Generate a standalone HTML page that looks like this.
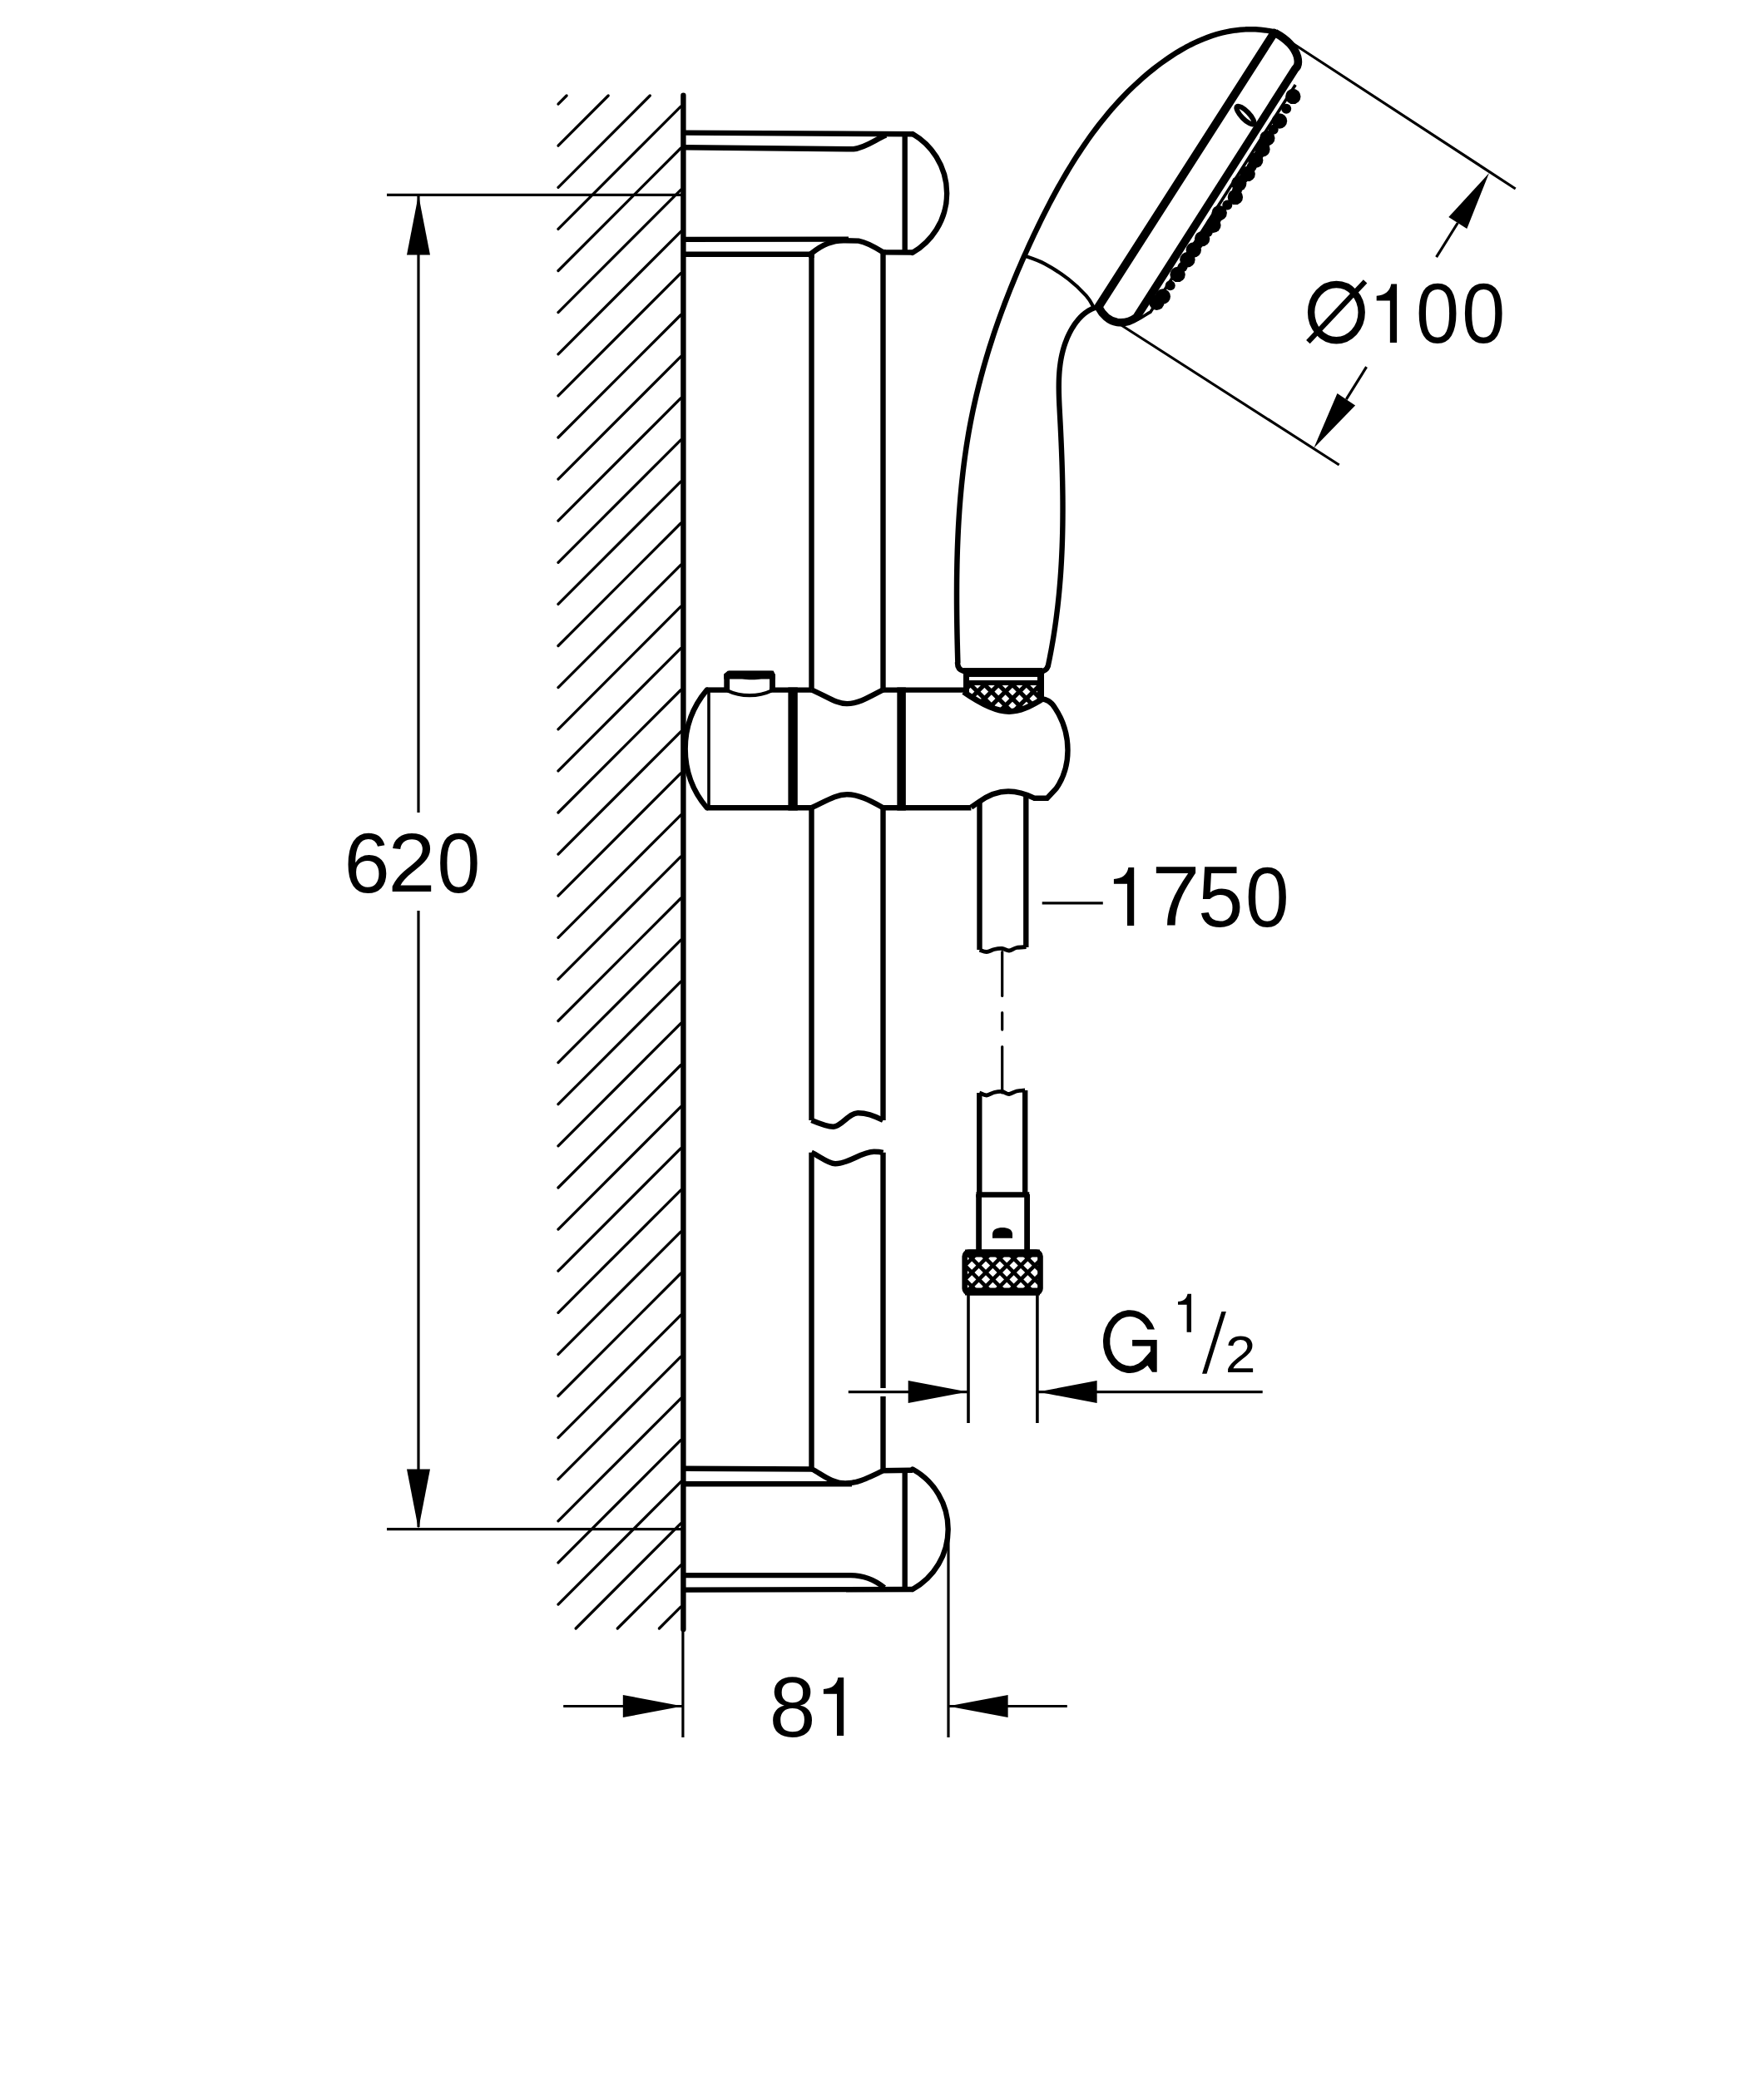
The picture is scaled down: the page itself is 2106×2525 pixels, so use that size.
<!DOCTYPE html>
<html><head><meta charset="utf-8"><title>Shower rail set drawing</title>
<style>html,body{margin:0;padding:0;background:#fff;}body{width:2106px;height:2525px;overflow:hidden;font-family:"Liberation Sans",sans-serif;}svg{display:block;}</style>
</head><body>
<svg width="2106" height="2525" viewBox="0 0 2106 2525" stroke="#000" fill="none"><line x1="671.0" y1="125.1" x2="681.1" y2="115.0" stroke-width="3.3" stroke-linecap="round"/>
<line x1="671.0" y1="175.2" x2="731.2" y2="115.0" stroke-width="3.3" stroke-linecap="round"/>
<line x1="671.0" y1="225.3" x2="781.3" y2="115.0" stroke-width="3.3" stroke-linecap="round"/>
<line x1="671.0" y1="275.4" x2="818.5" y2="127.9" stroke-width="3.3" stroke-linecap="round"/>
<line x1="671.0" y1="325.5" x2="818.5" y2="178.0" stroke-width="3.3" stroke-linecap="round"/>
<line x1="671.0" y1="375.6" x2="818.5" y2="228.1" stroke-width="3.3" stroke-linecap="round"/>
<line x1="671.0" y1="425.8" x2="818.5" y2="278.3" stroke-width="3.3" stroke-linecap="round"/>
<line x1="671.0" y1="475.9" x2="818.5" y2="328.4" stroke-width="3.3" stroke-linecap="round"/>
<line x1="671.0" y1="526.0" x2="818.5" y2="378.5" stroke-width="3.3" stroke-linecap="round"/>
<line x1="671.0" y1="576.1" x2="818.5" y2="428.6" stroke-width="3.3" stroke-linecap="round"/>
<line x1="671.0" y1="626.2" x2="818.5" y2="478.7" stroke-width="3.3" stroke-linecap="round"/>
<line x1="671.0" y1="676.3" x2="818.5" y2="528.8" stroke-width="3.3" stroke-linecap="round"/>
<line x1="671.0" y1="726.4" x2="818.5" y2="578.9" stroke-width="3.3" stroke-linecap="round"/>
<line x1="671.0" y1="776.5" x2="818.5" y2="629.0" stroke-width="3.3" stroke-linecap="round"/>
<line x1="671.0" y1="826.6" x2="818.5" y2="679.1" stroke-width="3.3" stroke-linecap="round"/>
<line x1="671.0" y1="876.8" x2="818.5" y2="729.2" stroke-width="3.3" stroke-linecap="round"/>
<line x1="671.0" y1="926.9" x2="818.5" y2="779.4" stroke-width="3.3" stroke-linecap="round"/>
<line x1="671.0" y1="977.0" x2="818.5" y2="829.5" stroke-width="3.3" stroke-linecap="round"/>
<line x1="671.0" y1="1027.1" x2="818.5" y2="879.6" stroke-width="3.3" stroke-linecap="round"/>
<line x1="671.0" y1="1077.2" x2="818.5" y2="929.7" stroke-width="3.3" stroke-linecap="round"/>
<line x1="671.0" y1="1127.3" x2="818.5" y2="979.8" stroke-width="3.3" stroke-linecap="round"/>
<line x1="671.0" y1="1177.4" x2="818.5" y2="1029.9" stroke-width="3.3" stroke-linecap="round"/>
<line x1="671.0" y1="1227.5" x2="818.5" y2="1080.0" stroke-width="3.3" stroke-linecap="round"/>
<line x1="671.0" y1="1277.6" x2="818.5" y2="1130.1" stroke-width="3.3" stroke-linecap="round"/>
<line x1="671.0" y1="1327.7" x2="818.5" y2="1180.2" stroke-width="3.3" stroke-linecap="round"/>
<line x1="671.0" y1="1377.8" x2="818.5" y2="1230.3" stroke-width="3.3" stroke-linecap="round"/>
<line x1="671.0" y1="1428.0" x2="818.5" y2="1280.5" stroke-width="3.3" stroke-linecap="round"/>
<line x1="671.0" y1="1478.1" x2="818.5" y2="1330.6" stroke-width="3.3" stroke-linecap="round"/>
<line x1="671.0" y1="1528.2" x2="818.5" y2="1380.7" stroke-width="3.3" stroke-linecap="round"/>
<line x1="671.0" y1="1578.3" x2="818.5" y2="1430.8" stroke-width="3.3" stroke-linecap="round"/>
<line x1="671.0" y1="1628.4" x2="818.5" y2="1480.9" stroke-width="3.3" stroke-linecap="round"/>
<line x1="671.0" y1="1678.5" x2="818.5" y2="1531.0" stroke-width="3.3" stroke-linecap="round"/>
<line x1="671.0" y1="1728.6" x2="818.5" y2="1581.1" stroke-width="3.3" stroke-linecap="round"/>
<line x1="671.0" y1="1778.7" x2="818.5" y2="1631.2" stroke-width="3.3" stroke-linecap="round"/>
<line x1="671.0" y1="1828.8" x2="818.5" y2="1681.3" stroke-width="3.3" stroke-linecap="round"/>
<line x1="671.0" y1="1878.9" x2="818.5" y2="1731.4" stroke-width="3.3" stroke-linecap="round"/>
<line x1="671.0" y1="1929.1" x2="818.5" y2="1781.6" stroke-width="3.3" stroke-linecap="round"/>
<line x1="692.2" y1="1958.0" x2="818.5" y2="1831.7" stroke-width="3.3" stroke-linecap="round"/>
<line x1="742.3" y1="1958.0" x2="818.5" y2="1881.8" stroke-width="3.3" stroke-linecap="round"/>
<line x1="792.4" y1="1958.0" x2="818.5" y2="1931.9" stroke-width="3.3" stroke-linecap="round"/>
<line x1="821.4" y1="114.8" x2="821.4" y2="1959.0" stroke-width="6.4" stroke-linecap="round"/>
<line x1="820.9" y1="1959.0" x2="820.9" y2="2089.0" stroke-width="3.2" stroke-linecap="butt"/>
<line x1="465.0" y1="234.4" x2="819.0" y2="234.4" stroke-width="3.2" stroke-linecap="butt"/>
<line x1="465.0" y1="1838.6" x2="819.0" y2="1838.6" stroke-width="3.2" stroke-linecap="butt"/>
<line x1="503.0" y1="236.0" x2="503.0" y2="977.0" stroke-width="3.2" stroke-linecap="butt"/>
<line x1="503.0" y1="1095.0" x2="503.0" y2="1836.0" stroke-width="3.2" stroke-linecap="butt"/>
<polygon points="503.0,234.5 489.0,306.6 517.0,306.6" stroke="none" fill="#000"/>
<polygon points="503.0,1838.5 517.0,1766.4 489.0,1766.4" stroke="none" fill="#000"/>
<line x1="677.2" y1="2051.5" x2="820.0" y2="2051.5" stroke-width="3.2" stroke-linecap="butt"/>
<polygon points="820.5,2051.5 748.8,2037.9 748.8,2065.1" stroke="none" fill="#000"/>
<line x1="1140.0" y1="2051.5" x2="1282.8" y2="2051.5" stroke-width="3.2" stroke-linecap="butt"/>
<polygon points="1139.6,2051.5 1211.6,2065.1 1211.6,2037.9" stroke="none" fill="#000"/>
<line x1="1140.0" y1="1847.0" x2="1140.0" y2="2089.0" stroke-width="3.2" stroke-linecap="butt"/>
<path d="M824,159.6 L1098,161.3" stroke-width="6.4" fill="none" />
<path d="M824,177.3 L1026,179.3 C1040,178 1052,168 1065,162.5" stroke-width="6.4" fill="none" />
<line x1="1087.7" y1="161.0" x2="1087.7" y2="303.0" stroke-width="6.4" stroke-linecap="butt"/>
<path d="M1097,161 A82.5,82.5 0 0 1 1097,303.8" stroke-width="6.4" fill="none" stroke-linecap="round"/>
<path d="M824,287.9 L1020,287.6" stroke-width="6.4" fill="none" />
<path d="M975.5,310 L975.5,304.6 C980,301 988,295.5 995,292.8 C1002,290 1008,289.2 1014,289.2 L1032,289.6 C1040,291 1050,296 1061.5,303.3 L1097,303.5" stroke-width="6.4" fill="none" />
<path d="M824,305.7 L978,305.7" stroke-width="6.4" fill="none" />
<line x1="975.5" y1="304.0" x2="975.5" y2="829.5" stroke-width="6.4" stroke-linecap="butt"/>
<line x1="1061.5" y1="300.0" x2="1061.5" y2="829.5" stroke-width="6.4" stroke-linecap="butt"/>
<line x1="975.5" y1="971.0" x2="975.5" y2="1347.0" stroke-width="6.4" stroke-linecap="butt"/>
<line x1="1061.5" y1="971.0" x2="1061.5" y2="1347.0" stroke-width="6.4" stroke-linecap="butt"/>
<path d="M975.5,1347 C985,1351 995,1355 1002,1354.7 C1012,1354 1020,1338.5 1031,1338.2 C1042,1338 1052,1342 1061.5,1347" stroke-width="6.4" fill="none" />
<path d="M975.5,1385.8 C985,1390 995,1399 1004,1399.3 C1020,1399.5 1035,1385 1050.6,1384.8 C1055,1384.8 1058,1385 1061.5,1385.8" stroke-width="6.4" fill="none" />
<line x1="975.5" y1="1385.8" x2="975.5" y2="1768.0" stroke-width="6.4" stroke-linecap="butt"/>
<line x1="1061.5" y1="1385.8" x2="1061.5" y2="1669.0" stroke-width="6.4" stroke-linecap="butt"/>
<line x1="1061.5" y1="1679.0" x2="1061.5" y2="1768.0" stroke-width="6.4" stroke-linecap="butt"/>
<path d="M824,1765.7 L978,1766.5" stroke-width="6.4" fill="none" />
<path d="M975.5,1766 C990,1774 1000,1783.5 1016,1783.5 C1032,1783.5 1045,1776 1061.5,1768.3 L1097,1767.7" stroke-width="6.4" fill="none" />
<path d="M824,1784.2 L1024,1784.2" stroke-width="6.4" fill="none" />
<line x1="1087.7" y1="1766.0" x2="1087.7" y2="1909.0" stroke-width="6.4" stroke-linecap="butt"/>
<path d="M1097,1766.5 A82.5,82.5 0 0 1 1097,1911" stroke-width="6.4" fill="none" stroke-linecap="round"/>
<path d="M824,1894.1 L1022,1894.1 C1040,1894 1052,1900 1063,1909" stroke-width="6.4" fill="none" />
<path d="M824,1911.6 L1097,1911" stroke-width="6.4" fill="none" />
<path d="M849.7,829.6 L877,829.6" stroke-width="6.4" fill="none" />
<path d="M925,829.6 L975.5,829.6" stroke-width="6.4" fill="none" />
<path d="M1061.5,829.6 L1158,829.6" stroke-width="6.4" fill="none" />
<path d="M849.7,971.2 L975.5,971.2" stroke-width="6.4" fill="none" />
<path d="M1061.5,971.2 L1167.4,971.2" stroke-width="6.4" fill="none" />
<path d="M849.7,829.6 A109.4,109.4 0 0 0 849.7,971.2" stroke-width="6.4" fill="none" stroke-linecap="round"/>
<line x1="852.0" y1="829.6" x2="852.0" y2="971.2" stroke-width="3.6" stroke-linecap="butt"/>
<path d="M873.7,830 L873.7,812 L877,809.8 L927.5,809.8 L928.5,812 L928.5,830" stroke-width="6.8" fill="none" />
<path d="M874.5,806.8 L927.7,806.8 L931.9,811 L931.9,816.6 L915,816.6 C910,817.6 898,817.6 892,816.6 L870.3,816.6 L870.3,811 Z" stroke-width="0.0" fill="#000" stroke="none"/>
<path d="M875,830.6 C884,835 894,836.2 901,836.2 C909,836.2 918,835 927,830.6" stroke-width="4.2" fill="none" />
<line x1="953.1" y1="826.5" x2="953.1" y2="974.4" stroke-width="11.4" stroke-linecap="butt"/>
<line x1="1083.6" y1="826.5" x2="1083.6" y2="974.4" stroke-width="10.5" stroke-linecap="butt"/>
<path d="M975.5,829.4 C995,838 1005,846.1 1018.4,846.1 C1032,846.1 1045,838 1061.5,829.4" stroke-width="6.4" fill="none" />
<path d="M975.5,971.2 C995,962 1005,955.3 1018.4,955.3 C1032,955.3 1045,962 1061.5,971.2" stroke-width="6.4" fill="none" />
<clipPath id="kc"><path d="M1161,824 L1251,824 L1251,841 C1238,850 1225,855 1213,855 C1195,855 1180,848 1161,832 Z"/></clipPath>
<g clip-path="url(#kc)"><line x1="956.8" y1="815" x2="1006.8" y2="865" stroke-width="5.2"/><line x1="1006.8" y1="815" x2="956.8" y2="865" stroke-width="5.2"/><line x1="973.6" y1="815" x2="1023.6" y2="865" stroke-width="5.2"/><line x1="1023.6" y1="815" x2="973.6" y2="865" stroke-width="5.2"/><line x1="990.4" y1="815" x2="1040.4" y2="865" stroke-width="5.2"/><line x1="1040.4" y1="815" x2="990.4" y2="865" stroke-width="5.2"/><line x1="1007.2" y1="815" x2="1057.2" y2="865" stroke-width="5.2"/><line x1="1057.2" y1="815" x2="1007.2" y2="865" stroke-width="5.2"/><line x1="1024.0" y1="815" x2="1074.0" y2="865" stroke-width="5.2"/><line x1="1074.0" y1="815" x2="1024.0" y2="865" stroke-width="5.2"/><line x1="1040.8" y1="815" x2="1090.8" y2="865" stroke-width="5.2"/><line x1="1090.8" y1="815" x2="1040.8" y2="865" stroke-width="5.2"/><line x1="1057.6" y1="815" x2="1107.6" y2="865" stroke-width="5.2"/><line x1="1107.6" y1="815" x2="1057.6" y2="865" stroke-width="5.2"/><line x1="1074.4" y1="815" x2="1124.4" y2="865" stroke-width="5.2"/><line x1="1124.4" y1="815" x2="1074.4" y2="865" stroke-width="5.2"/><line x1="1091.2" y1="815" x2="1141.2" y2="865" stroke-width="5.2"/><line x1="1141.2" y1="815" x2="1091.2" y2="865" stroke-width="5.2"/><line x1="1108.0" y1="815" x2="1158.0" y2="865" stroke-width="5.2"/><line x1="1158.0" y1="815" x2="1108.0" y2="865" stroke-width="5.2"/><line x1="1124.8" y1="815" x2="1174.8" y2="865" stroke-width="5.2"/><line x1="1174.8" y1="815" x2="1124.8" y2="865" stroke-width="5.2"/><line x1="1141.6" y1="815" x2="1191.6" y2="865" stroke-width="5.2"/><line x1="1191.6" y1="815" x2="1141.6" y2="865" stroke-width="5.2"/><line x1="1158.4" y1="815" x2="1208.4" y2="865" stroke-width="5.2"/><line x1="1208.4" y1="815" x2="1158.4" y2="865" stroke-width="5.2"/><line x1="1175.2" y1="815" x2="1225.2" y2="865" stroke-width="5.2"/><line x1="1225.2" y1="815" x2="1175.2" y2="865" stroke-width="5.2"/><line x1="1192.0" y1="815" x2="1242.0" y2="865" stroke-width="5.2"/><line x1="1242.0" y1="815" x2="1192.0" y2="865" stroke-width="5.2"/><line x1="1208.8" y1="815" x2="1258.8" y2="865" stroke-width="5.2"/><line x1="1258.8" y1="815" x2="1208.8" y2="865" stroke-width="5.2"/><line x1="1225.6" y1="815" x2="1275.6" y2="865" stroke-width="5.2"/><line x1="1275.6" y1="815" x2="1225.6" y2="865" stroke-width="5.2"/><line x1="1242.4" y1="815" x2="1292.4" y2="865" stroke-width="5.2"/><line x1="1292.4" y1="815" x2="1242.4" y2="865" stroke-width="5.2"/><line x1="1259.2" y1="815" x2="1309.2" y2="865" stroke-width="5.2"/><line x1="1309.2" y1="815" x2="1259.2" y2="865" stroke-width="5.2"/><line x1="1276.0" y1="815" x2="1326.0" y2="865" stroke-width="5.2"/><line x1="1326.0" y1="815" x2="1276.0" y2="865" stroke-width="5.2"/><line x1="1292.8" y1="815" x2="1342.8" y2="865" stroke-width="5.2"/><line x1="1342.8" y1="815" x2="1292.8" y2="865" stroke-width="5.2"/><line x1="1309.6" y1="815" x2="1359.6" y2="865" stroke-width="5.2"/><line x1="1359.6" y1="815" x2="1309.6" y2="865" stroke-width="5.2"/><line x1="1326.4" y1="815" x2="1376.4" y2="865" stroke-width="5.2"/><line x1="1376.4" y1="815" x2="1326.4" y2="865" stroke-width="5.2"/><line x1="1343.2" y1="815" x2="1393.2" y2="865" stroke-width="5.2"/><line x1="1393.2" y1="815" x2="1343.2" y2="865" stroke-width="5.2"/><line x1="1360.0" y1="815" x2="1410.0" y2="865" stroke-width="5.2"/><line x1="1410.0" y1="815" x2="1360.0" y2="865" stroke-width="5.2"/><line x1="1376.8" y1="815" x2="1426.8" y2="865" stroke-width="5.2"/><line x1="1426.8" y1="815" x2="1376.8" y2="865" stroke-width="5.2"/></g>
<path d="M1158.3,831.9 C1180,847 1198,855.5 1213,855.5 C1228,855.5 1240,848 1252.3,841" stroke-width="6.8" fill="none" />
<line x1="1161.5" y1="806.0" x2="1161.5" y2="832.0" stroke-width="7.0" stroke-linecap="butt"/>
<line x1="1251.0" y1="808.0" x2="1251.0" y2="842.0" stroke-width="8.0" stroke-linecap="butt"/>
<line x1="1158.0" y1="808.5" x2="1253.2" y2="808.5" stroke-width="10.7" stroke-linecap="butt"/>
<line x1="1158.0" y1="821.0" x2="1253.2" y2="821.0" stroke-width="5.8" stroke-linecap="butt"/>
<path d="M1251,840 C1258,841 1263,843 1268,851 C1278,866 1283.5,885 1283.5,902 C1283.5,920 1278,936 1269.7,948 L1258.7,959.7 L1243.2,959.7 C1230,953 1220,951.5 1212,951.5 C1200,951.5 1188,956 1176.5,964.3 L1167.4,970.7" stroke-width="6.4" fill="none" />
<path d="M1158.6,807 Q1151,805 1151,797 L1151.35,796.77 L1151.19,790.99 L1151.03,785.20 L1150.88,779.41 L1150.74,773.60 L1150.61,767.77 L1150.49,761.94 L1150.39,756.11 L1150.29,750.26 L1150.21,744.40 L1150.14,738.54 L1150.09,732.67 L1150.05,726.79 L1150.02,720.90 L1150.02,715.01 L1150.03,709.12 L1150.06,703.22 L1150.10,697.32 L1150.17,691.41 L1150.26,685.50 L1150.37,679.59 L1150.50,673.67 L1150.66,667.76 L1150.83,661.84 L1151.04,655.92 L1151.27,650.01 L1151.52,644.09 L1151.80,638.17 L1152.11,632.26 L1152.45,626.35 L1152.82,620.44 L1153.21,614.54 L1153.64,608.63 L1154.10,602.74 L1154.59,596.84 L1155.12,590.96 L1155.67,585.07 L1156.27,579.20 L1156.90,573.33 L1157.56,567.47 L1158.26,561.61 L1159.00,555.77 L1159.78,549.93 L1160.60,544.11 L1161.46,538.29 L1162.35,532.48 L1163.30,526.69 L1164.28,520.91 L1165.30,515.13 L1166.37,509.37 L1167.49,503.63 L1168.64,497.89 L1169.84,492.17 L1171.08,486.46 L1172.37,480.76 L1173.69,475.07 L1175.05,469.39 L1176.46,463.73 L1177.91,458.07 L1179.39,452.43 L1180.92,446.80 L1182.48,441.18 L1184.08,435.57 L1185.72,429.97 L1187.40,424.38 L1189.11,418.80 L1190.87,413.23 L1192.66,407.67 L1194.48,402.11 L1196.34,396.57 L1198.24,391.04 L1200.17,385.52 L1202.14,380.01 L1204.14,374.50 L1206.17,369.01 L1208.24,363.52 L1210.34,358.04 L1212.47,352.58 L1214.63,347.11 L1216.83,341.66 L1219.06,336.22 L1221.32,330.78 L1223.61,325.35 L1225.93,319.93 L1228.27,314.52 L1230.65,309.11 L1233.06,303.71 L1235.50,298.32 L1237.96,292.94 L1240.45,287.56 L1242.97,282.19 L1245.52,276.82 L1248.10,271.47 L1250.70,266.12 L1253.34,260.79 L1256.01,255.47 L1258.71,250.17 L1261.44,244.88 L1264.21,239.62 L1267.02,234.37 L1269.86,229.15 L1272.74,223.94 L1275.66,218.77 L1278.62,213.62 L1281.62,208.50 L1284.66,203.41 L1287.74,198.35 L1290.87,193.32 L1294.04,188.33 L1297.26,183.37 L1300.53,178.45 L1303.84,173.58 L1307.20,168.74 L1310.62,163.95 L1314.08,159.20 L1317.60,154.49 L1321.16,149.84 L1324.79,145.23 L1328.46,140.67 L1332.20,136.17 L1335.99,131.72 L1339.84,127.33 L1343.74,122.99 L1347.71,118.72 L1351.74,114.50 L1355.83,110.34 L1359.98,106.25 L1364.20,102.23 L1368.48,98.27 L1372.83,94.38 L1377.25,90.56 L1381.73,86.81 L1386.29,83.14 L1390.91,79.54 L1395.61,76.01 L1400.37,72.58 L1405.21,69.24 L1410.11,66.00 L1415.08,62.87 L1420.12,59.86 L1425.22,56.99 L1430.39,54.25 L1435.62,51.66 L1440.92,49.22 L1446.27,46.95 L1451.69,44.85 L1457.17,42.93 L1462.71,41.21 L1468.31,39.69 L1473.96,38.37 L1479.67,37.27 L1485.44,36.40 L1491.27,35.76 L1497.14,35.37 L1503.07,35.23 L1509.06,35.35 L1515.09,35.74 L1521.18,36.41 L1527.31,37.37 L1533.50,38.62" stroke-width="6.5" fill="none" stroke-linejoin="round"/>
<path d="M1316.42,369.84 L1313.02,371.18 L1309.77,372.82 L1306.68,374.73 L1303.74,376.90 L1300.95,379.29 L1298.31,381.89 L1295.81,384.68 L1293.47,387.63 L1291.26,390.72 L1289.20,393.93 L1287.28,397.24 L1285.50,400.63 L1283.86,404.07 L1282.36,407.55 L1280.99,411.05 L1279.75,414.57 L1278.63,418.11 L1277.63,421.67 L1276.74,425.25 L1275.95,428.85 L1275.27,432.46 L1274.68,436.10 L1274.19,439.74 L1273.77,443.40 L1273.44,447.07 L1273.18,450.76 L1272.99,454.45 L1272.86,458.16 L1272.79,461.87 L1272.77,465.60 L1272.80,469.33 L1272.86,473.06 L1272.97,476.81 L1273.10,480.55 L1273.26,484.30 L1273.43,488.06 L1273.63,491.81 L1273.82,495.57 L1274.02,499.32 L1274.22,503.07 L1274.42,506.83 L1274.61,510.58 L1274.80,514.33 L1274.98,518.08 L1275.16,521.82 L1275.33,525.57 L1275.50,529.31 L1275.67,533.06 L1275.82,536.80 L1275.98,540.54 L1276.12,544.28 L1276.26,548.02 L1276.40,551.76 L1276.53,555.49 L1276.65,559.23 L1276.76,562.96 L1276.87,566.70 L1276.97,570.43 L1277.06,574.16 L1277.15,577.89 L1277.22,581.62 L1277.29,585.35 L1277.35,589.08 L1277.40,592.80 L1277.45,596.53 L1277.48,600.26 L1277.51,603.98 L1277.52,607.70 L1277.52,611.43 L1277.52,615.15 L1277.50,618.87 L1277.48,622.59 L1277.44,626.31 L1277.40,630.03 L1277.34,633.75 L1277.27,637.47 L1277.19,641.18 L1277.10,644.90 L1276.99,648.62 L1276.88,652.33 L1276.75,656.05 L1276.61,659.76 L1276.45,663.48 L1276.28,667.19 L1276.10,670.91 L1275.91,674.62 L1275.70,678.33 L1275.48,682.05 L1275.25,685.76 L1275.00,689.47 L1274.73,693.18 L1274.45,696.89 L1274.16,700.60 L1273.85,704.31 L1273.53,708.03 L1273.19,711.74 L1272.83,715.45 L1272.46,719.16 L1272.07,722.87 L1271.67,726.58 L1271.25,730.29 L1270.81,734.00 L1270.35,737.71 L1269.88,741.42 L1269.39,745.13 L1268.88,748.84 L1268.36,752.55 L1267.82,756.26 L1267.25,759.97 L1266.67,763.68 L1266.07,767.39 L1265.45,771.10 L1264.82,774.81 L1264.16,778.52 L1263.48,782.23 L1262.78,785.94 L1262.07,789.66 L1261.33,793.37 L1260.57,797.08 Q1260,805 1253,807.5" stroke-width="6.4" fill="none" stroke-linejoin="round"/>
<path d="M1231.4,307.5 C1235.5,309.1 1246.9,312.4 1255.7,317.1 C1264.5,321.8 1276.0,329.3 1284.3,335.7 C1292.6,342.1 1300.6,350.0 1305.7,355.7 C1310.8,361.4 1313.5,367.6 1315.0,370.0" stroke-width="4.2" fill="none" />
<path d="M1531.5,39.6 L1320.4,369" stroke-width="10.0" fill="none" stroke-linecap="round"/>
<path d="M1532.7,39.4 C1545,46 1556,56 1559.5,68 C1561.5,76 1560.5,80 1556.8,82.8 L1366.3,381.2 C1360,386 1352,388.5 1343,387.5 C1333,386 1325,378 1320.4,369" stroke-width="9.6" fill="none" stroke-linejoin="round"/>
<path d="M1557.2,102.0 L1382.9,375.2 C1378,377 1370,385 1358,388" stroke-width="3.6" fill="none" />
<circle cx="1554.3" cy="115.9" r="9.2" fill="#000" stroke="none"/>
<circle cx="1538.0" cy="145.5" r="9.2" fill="#000" stroke="none"/>
<circle cx="1523.3" cy="166.1" r="9.2" fill="#000" stroke="none"/>
<circle cx="1517.4" cy="179.4" r="9.2" fill="#000" stroke="none"/>
<circle cx="1509.2" cy="192.7" r="9.2" fill="#000" stroke="none"/>
<circle cx="1499.7" cy="208.9" r="9.2" fill="#000" stroke="none"/>
<circle cx="1489.2" cy="220.7" r="9.2" fill="#000" stroke="none"/>
<circle cx="1484.9" cy="236.9" r="9.2" fill="#000" stroke="none"/>
<circle cx="1465.7" cy="256.1" r="9.2" fill="#000" stroke="none"/>
<circle cx="1458.4" cy="270.8" r="9.2" fill="#000" stroke="none"/>
<circle cx="1445.1" cy="287.1" r="9.2" fill="#000" stroke="none"/>
<circle cx="1434.8" cy="300.4" r="9.2" fill="#000" stroke="none"/>
<circle cx="1427.4" cy="312.2" r="9.2" fill="#000" stroke="none"/>
<circle cx="1415.6" cy="329.9" r="9.2" fill="#000" stroke="none"/>
<circle cx="1397.8" cy="356.5" r="9.2" fill="#000" stroke="none"/>
<circle cx="1390.4" cy="363.8" r="9.2" fill="#000" stroke="none"/>
<circle cx="1546.2" cy="130.7" r="6" fill="#000" stroke="none"/>
<circle cx="1530.7" cy="155.8" r="6" fill="#000" stroke="none"/>
<circle cx="1520.3" cy="172.7" r="6" fill="#000" stroke="none"/>
<circle cx="1513.3" cy="186.0" r="6" fill="#000" stroke="none"/>
<circle cx="1504.5" cy="200.8" r="6" fill="#000" stroke="none"/>
<circle cx="1494.4" cy="214.8" r="6" fill="#000" stroke="none"/>
<circle cx="1487.0" cy="228.8" r="6" fill="#000" stroke="none"/>
<circle cx="1475.3" cy="246.5" r="6" fill="#000" stroke="none"/>
<circle cx="1462.1" cy="263.5" r="6" fill="#000" stroke="none"/>
<circle cx="1451.8" cy="279.0" r="6" fill="#000" stroke="none"/>
<circle cx="1439.9" cy="293.8" r="6" fill="#000" stroke="none"/>
<circle cx="1431.1" cy="306.3" r="6" fill="#000" stroke="none"/>
<circle cx="1421.5" cy="321.1" r="6" fill="#000" stroke="none"/>
<circle cx="1406.7" cy="343.2" r="6" fill="#000" stroke="none"/>
<circle cx="1394.1" cy="360.1" r="6" fill="#000" stroke="none"/>
<ellipse cx="1497" cy="138.6" rx="14.5" ry="4.6" transform="rotate(46 1497 138.6)" stroke-width="6" fill="none"/>
<line x1="1158.0" y1="808.5" x2="1253.2" y2="808.5" stroke-width="10.7" stroke-linecap="butt"/>
<line x1="1177.5" y1="964.0" x2="1177.5" y2="1142.0" stroke-width="6.4" stroke-linecap="butt"/>
<line x1="1233.3" y1="957.0" x2="1233.3" y2="1139.0" stroke-width="6.4" stroke-linecap="butt"/>
<path d="M1177.5,1142.2 C1178.9,1142.6 1183.1,1144.6 1186.0,1144.5 C1188.9,1144.4 1191.9,1142.2 1195.0,1141.5 C1198.1,1140.8 1201.7,1140.2 1204.7,1140.5 C1207.7,1140.8 1210.1,1143.2 1213.0,1143.0 C1215.9,1142.8 1218.6,1140.2 1222.0,1139.5 C1225.4,1138.8 1231.6,1138.8 1233.5,1138.6" stroke-width="4.8" fill="none" />
<line x1="1204.7" y1="1144.6" x2="1204.7" y2="1197.4" stroke-width="3.2" stroke-linecap="round"/>
<line x1="1204.7" y1="1217.7" x2="1204.7" y2="1238.1" stroke-width="3.2" stroke-linecap="round"/>
<line x1="1204.7" y1="1258.5" x2="1204.7" y2="1314.0" stroke-width="3.2" stroke-linecap="round"/>
<path d="M1177.3,1314.0 C1178.8,1314.5 1183.0,1317.1 1186.0,1317.0 C1189.0,1316.9 1191.9,1314.2 1195.0,1313.5 C1198.1,1312.8 1201.5,1312.2 1204.5,1312.5 C1207.5,1312.8 1210.1,1315.6 1213.0,1315.5 C1215.9,1315.4 1218.8,1312.8 1222.0,1312.0 C1225.2,1311.2 1230.5,1311.2 1232.2,1311.0" stroke-width="4.8" fill="none" />
<line x1="1177.3" y1="1314.0" x2="1177.3" y2="1436.0" stroke-width="6.4" stroke-linecap="butt"/>
<line x1="1232.2" y1="1311.0" x2="1232.2" y2="1436.0" stroke-width="6.4" stroke-linecap="butt"/>
<line x1="1173.4" y1="1436.5" x2="1237.3" y2="1436.5" stroke-width="6.4" stroke-linecap="butt"/>
<line x1="1176.6" y1="1436.0" x2="1176.6" y2="1503.0" stroke-width="6.8" stroke-linecap="butt"/>
<line x1="1234.6" y1="1436.0" x2="1234.6" y2="1503.0" stroke-width="6.8" stroke-linecap="butt"/>
<path d="M1193,1488.8 L1193,1484 C1193,1478 1199,1476 1205,1476 C1211,1476 1217,1478 1217,1484 L1217,1488.8 Z" stroke-width="0.0" fill="#000" stroke="none"/>
<clipPath id="nc"><rect x="1162" y="1508" width="86" height="44"/></clipPath>
<g clip-path="url(#nc)"><line x1="1054.2" y1="1500" x2="1114.2" y2="1560" stroke-width="4.6"/><line x1="1114.2" y1="1500" x2="1054.2" y2="1560" stroke-width="4.6"/><line x1="1071.0" y1="1500" x2="1131.0" y2="1560" stroke-width="4.6"/><line x1="1131.0" y1="1500" x2="1071.0" y2="1560" stroke-width="4.6"/><line x1="1087.8" y1="1500" x2="1147.8" y2="1560" stroke-width="4.6"/><line x1="1147.8" y1="1500" x2="1087.8" y2="1560" stroke-width="4.6"/><line x1="1104.6" y1="1500" x2="1164.6" y2="1560" stroke-width="4.6"/><line x1="1164.6" y1="1500" x2="1104.6" y2="1560" stroke-width="4.6"/><line x1="1121.4" y1="1500" x2="1181.4" y2="1560" stroke-width="4.6"/><line x1="1181.4" y1="1500" x2="1121.4" y2="1560" stroke-width="4.6"/><line x1="1138.2" y1="1500" x2="1198.2" y2="1560" stroke-width="4.6"/><line x1="1198.2" y1="1500" x2="1138.2" y2="1560" stroke-width="4.6"/><line x1="1155.0" y1="1500" x2="1215.0" y2="1560" stroke-width="4.6"/><line x1="1215.0" y1="1500" x2="1155.0" y2="1560" stroke-width="4.6"/><line x1="1171.8" y1="1500" x2="1231.8" y2="1560" stroke-width="4.6"/><line x1="1231.8" y1="1500" x2="1171.8" y2="1560" stroke-width="4.6"/><line x1="1188.6" y1="1500" x2="1248.6" y2="1560" stroke-width="4.6"/><line x1="1248.6" y1="1500" x2="1188.6" y2="1560" stroke-width="4.6"/><line x1="1205.4" y1="1500" x2="1265.4" y2="1560" stroke-width="4.6"/><line x1="1265.4" y1="1500" x2="1205.4" y2="1560" stroke-width="4.6"/><line x1="1222.2" y1="1500" x2="1282.2" y2="1560" stroke-width="4.6"/><line x1="1282.2" y1="1500" x2="1222.2" y2="1560" stroke-width="4.6"/><line x1="1239.0" y1="1500" x2="1299.0" y2="1560" stroke-width="4.6"/><line x1="1299.0" y1="1500" x2="1239.0" y2="1560" stroke-width="4.6"/><line x1="1255.8" y1="1500" x2="1315.8" y2="1560" stroke-width="4.6"/><line x1="1315.8" y1="1500" x2="1255.8" y2="1560" stroke-width="4.6"/><line x1="1272.6" y1="1500" x2="1332.6" y2="1560" stroke-width="4.6"/><line x1="1332.6" y1="1500" x2="1272.6" y2="1560" stroke-width="4.6"/><line x1="1289.4" y1="1500" x2="1349.4" y2="1560" stroke-width="4.6"/><line x1="1349.4" y1="1500" x2="1289.4" y2="1560" stroke-width="4.6"/><line x1="1306.2" y1="1500" x2="1366.2" y2="1560" stroke-width="4.6"/><line x1="1366.2" y1="1500" x2="1306.2" y2="1560" stroke-width="4.6"/></g>
<rect x="1159.7" y="1505.5" width="90.8" height="48.8" rx="5" ry="5" stroke-width="6.6" fill="none"/>
<line x1="1160.0" y1="1507.0" x2="1250.0" y2="1507.0" stroke-width="9.0" stroke-linecap="butt"/>
<line x1="1160.0" y1="1553.0" x2="1250.0" y2="1553.0" stroke-width="9.0" stroke-linecap="butt"/>
<line x1="1164.0" y1="1557.0" x2="1164.0" y2="1711.0" stroke-width="3.6" stroke-linecap="butt"/>
<line x1="1246.9" y1="1557.0" x2="1246.9" y2="1711.0" stroke-width="3.6" stroke-linecap="butt"/>
<line x1="1019.8" y1="1673.6" x2="1163.0" y2="1673.6" stroke-width="3.2" stroke-linecap="butt"/>
<polygon points="1163.0,1673.6 1091.7,1660.1 1091.7,1687.1" stroke="none" fill="#000"/>
<line x1="1247.7" y1="1673.6" x2="1517.7" y2="1673.6" stroke-width="3.2" stroke-linecap="butt"/>
<polygon points="1247.7,1673.6 1318.6,1687.1 1318.6,1660.1" stroke="none" fill="#000"/>
<line x1="1533.0" y1="38.5" x2="1821.7" y2="227.0" stroke-width="3.2" stroke-linecap="butt"/>
<line x1="1344.0" y1="388.5" x2="1609.7" y2="559.0" stroke-width="3.2" stroke-linecap="butt"/>
<polygon points="1790.0,208.1 1741.3,261.1 1763.3,274.9" stroke="none" fill="#000"/>
<line x1="1752.3" y1="268.0" x2="1726.6" y2="309.1" stroke-width="3.2" stroke-linecap="butt"/>
<polygon points="1579.3,538.8 1629.1,487.4 1607.5,473.0" stroke="none" fill="#000"/>
<line x1="1618.3" y1="480.2" x2="1642.6" y2="441.2" stroke-width="3.2" stroke-linecap="butt"/>
<line x1="1252.7" y1="1085.9" x2="1325.8" y2="1085.9" stroke-width="3.2" stroke-linecap="butt"/>
<text transform="matrix(0.9913 0 0 1.0155 413.44 1072.68)" x="0" y="0" font-size="100" font-family="Liberation Sans, sans-serif" fill="#000" stroke="none">6</text>
<text transform="matrix(1.0219 0 0 1.0000 466.39 1071.60)" x="0" y="0" font-size="100" font-family="Liberation Sans, sans-serif" fill="#000" stroke="none">2</text>
<text transform="matrix(0.9310 0 0 1.0155 525.58 1072.68)" x="0" y="0" font-size="100" font-family="Liberation Sans, sans-serif" fill="#000" stroke="none">0</text>
<text transform="matrix(1.0000 0 0 1.0198 924.70 2087.78)" x="0" y="0" font-size="100" font-family="Liberation Sans, sans-serif" fill="#000" stroke="none">8</text>
<path transform="translate(1014.2 2086.9) scale(1.0000)" d="M0,0 L-8.2,0 L-8.2,-50.2 L-24.3,-50.2 L-24.3,-56 C-14.5,-56.5 -8.5,-61 -6.8,-70 L0,-70 Z" fill="#000" stroke="none"/>
<path transform="translate(1363.2 1112.9) scale(1.0000)" d="M0,0 L-8.2,0 L-8.2,-50.2 L-24.3,-50.2 L-24.3,-56 C-14.5,-56.5 -8.5,-61 -6.8,-70 L0,-70 Z" fill="#000" stroke="none"/>
<text transform="matrix(1.0396 0 0 1.0160 1384.49 1112.90)" x="0" y="0" font-size="100" font-family="Liberation Sans, sans-serif" fill="#000" stroke="none">7</text>
<text transform="matrix(0.9810 0 0 1.0301 1440.08 1113.87)" x="0" y="0" font-size="100" font-family="Liberation Sans, sans-serif" fill="#000" stroke="none">5</text>
<text transform="matrix(0.9456 0 0 1.0155 1497.02 1113.88)" x="0" y="0" font-size="100" font-family="Liberation Sans, sans-serif" fill="#000" stroke="none">0</text>
<ellipse cx="1606.4" cy="375.6" rx="30.3" ry="33.6" stroke-width="8.4" fill="none"/>
<line x1="1572.4" y1="411.1" x2="1641.1" y2="338.4" stroke-width="6.2" stroke-linecap="butt"/>
<path transform="translate(1679.1 411.9) scale(1.0043)" d="M0,0 L-8.2,0 L-8.2,-50.2 L-24.3,-50.2 L-24.3,-56 C-14.5,-56.5 -8.5,-61 -6.8,-70 L0,-70 Z" fill="#000" stroke="none"/>
<text transform="matrix(0.9372 0 0 1.0155 1702.05 412.48)" x="0" y="0" font-size="100" font-family="Liberation Sans, sans-serif" fill="#000" stroke="none">0</text>
<text transform="matrix(0.9351 0 0 1.0155 1757.26 412.48)" x="0" y="0" font-size="100" font-family="Liberation Sans, sans-serif" fill="#000" stroke="none">0</text>
<path d="M1388,1598.5 A32.3,37.95 0 1 0 1379.4,1641.7 L1385,1649.7 L1390.7,1649.7 L1390.7,1611.1 L1361.1,1611.1 L1361.1,1618.6 L1382.9,1618.6 L1382.9,1625 L1376.6,1632 A24.1,29.75 0 1 1 1379.5,1598.5 Z" fill="#000" stroke="none"/>
<path transform="translate(1432.0 1601.8) scale(0.6586)" d="M0,0 L-8.2,0 L-8.2,-50.2 L-24.3,-50.2 L-24.3,-56 C-14.5,-56.5 -8.5,-61 -6.8,-70 L0,-70 Z" fill="#000" stroke="none"/>
<text transform="matrix(0.6601 0 0 0.6304 1472.70 1649.90)" x="0" y="0" font-size="100" font-family="Liberation Sans, sans-serif" fill="#000" stroke="none">2</text>
<polygon points="1445,1651.8 1450.5,1651.8 1473.9,1577 1468.4,1577" fill="#000" stroke="none"/></svg>
</body></html>
